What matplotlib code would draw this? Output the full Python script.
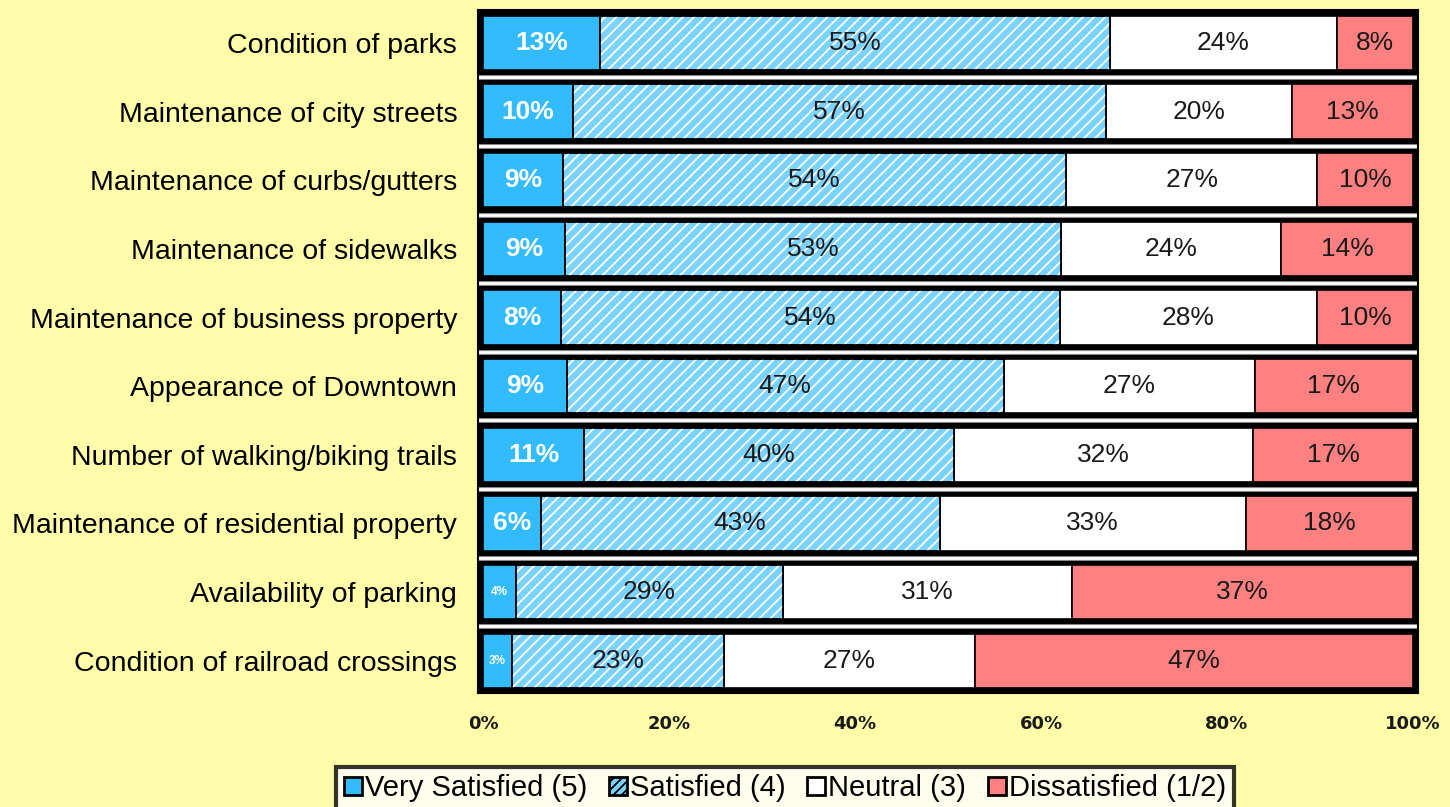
import numpy as np
import matplotlib
matplotlib.use("Agg")
import matplotlib.pyplot as plt
from matplotlib.patches import Patch

plt.rcParams['font.family'] = ['Liberation Sans', 'DejaVu Sans']
plt.rcParams['hatch.linewidth'] = 1.3

#------------------- DATA -------------------#
items = ["Condition of parks",
         "Maintenance of city streets",
         "Maintenance of curbs/gutters",
         "Maintenance of sidewalks",
         "Maintenance of business property",
         "Appearance of Downtown",
         "Number of walking/biking trails",
         "Maintenance of residential property",
         "Availability of parking",
         "Condition of railroad crossings"]

very_satisfied = [12.6, 9.7, 8.6, 8.8, 8.4, 9.0, 10.9, 6.2, 3.55, 3.1]
satisfied      = [54.8, 57.3, 54.1, 53.4, 53.6, 47.0, 39.7, 42.9, 28.7, 22.8]
neutral        = [24.4, 20.0, 27.0, 23.6, 27.7, 27.0, 32.2, 32.9, 31.05, 27.0]
dissatisfied   = [8.2, 13.0, 10.3, 14.2, 10.3, 17.0, 17.2, 18.0, 36.7, 47.1]

series_names = ["Very Satisfied (5)", "Satisfied (4)", "Neutral (3)", "Dissatisfied (1/2)"]
xticks = [0, 20, 40, 60, 80, 100]

#------------------- STYLE -------------------#
BG     = '#FFFDAA'
C_VS   = '#33BBFF'
C_SAT  = '#7AD2FF'
C_NEU  = '#FFFFFF'
C_DIS  = '#FF8080'

fig = plt.figure(figsize=(14.5, 8.07), dpi=100, facecolor=BG)
ax = fig.add_axes([478/1450, 1-693/807, 940/1450, 683/807])
ax.set_facecolor('black')

y = np.arange(len(items))
h = 0.79
series = [very_satisfied, satisfied, neutral, dissatisfied]
colors = [C_VS, C_SAT, C_NEU, C_DIS]

#white strips between rows
for k in range(len(items) - 1):
    ax.axhline(k + 0.5, color='#888888', lw=3.6, zorder=1)
    ax.axhline(k + 0.5, color='white', lw=2.0, zorder=1.1)

left = np.zeros(len(items))
for i, vals in enumerate(series):
    vals = np.array(vals)
    ax.barh(y, vals, left=left, height=h, color=colors[i],
            edgecolor='black', lw=1.2, zorder=2)
    if i == 1:
        #hatch overlay for satisfied
        ax.barh(y, vals, left=left, height=h, fill=False, hatch='///',
                edgecolor='white', lw=0, zorder=3)
        ax.barh(y, vals, left=left, height=h, fill=False,
                edgecolor='black', lw=1.2, zorder=4)
    for j, v in enumerate(vals):
        cx = left[j] + v / 2
        txt = f"{v:.0f}%"
        if i == 0:
            fs = 19 if v >= 5 else 8.5
            ax.text(cx, y[j], txt, ha='center', va='center', color='white',
                    fontsize=fs, fontweight='bold', zorder=5)
        else:
            ax.text(cx, y[j], txt, ha='center', va='center', color='#1a1a1a',
                    fontsize=19, zorder=5)
    left = left + vals

ax.set_xlim(-0.54, 100.54)
ax.set_ylim(len(items) - 1 + 0.47, -0.48)

ax.set_yticks(y)
ax.set_yticklabels(items, fontsize=20.5)
ax.set_xticks(xticks)
ax.set_xticklabels([f"{t}%" for t in xticks], fontsize=13, family='DejaVu Sans',
                   fontweight='bold', color='#1a1a1a')
ax.tick_params(axis='y', length=0, pad=15)
ax.tick_params(axis='x', length=0, pad=16)
for s in ax.spines.values():
    s.set_color('black')
    s.set_linewidth(1.5)

handles = [Patch(facecolor=C_VS, edgecolor='black', lw=2),
           Patch(facecolor=C_SAT, edgecolor='black', lw=2, hatch='////'),
           Patch(facecolor=C_NEU, edgecolor='black', lw=2),
           Patch(facecolor=C_DIS, edgecolor='black', lw=2)]
leg = fig.legend(handles, series_names, loc='upper center',
                 bbox_to_anchor=(785/1450, 1-767/807), ncol=4, fontsize=21,
                 frameon=True, fancybox=False, edgecolor='black',
                 handlelength=0.62, handleheight=0.62, handletextpad=0.1,
                 columnspacing=0.75, borderpad=0.25, borderaxespad=0)
leg.get_frame().set_linewidth(3)

fig.savefig('out.png', dpi=100, facecolor=BG)
